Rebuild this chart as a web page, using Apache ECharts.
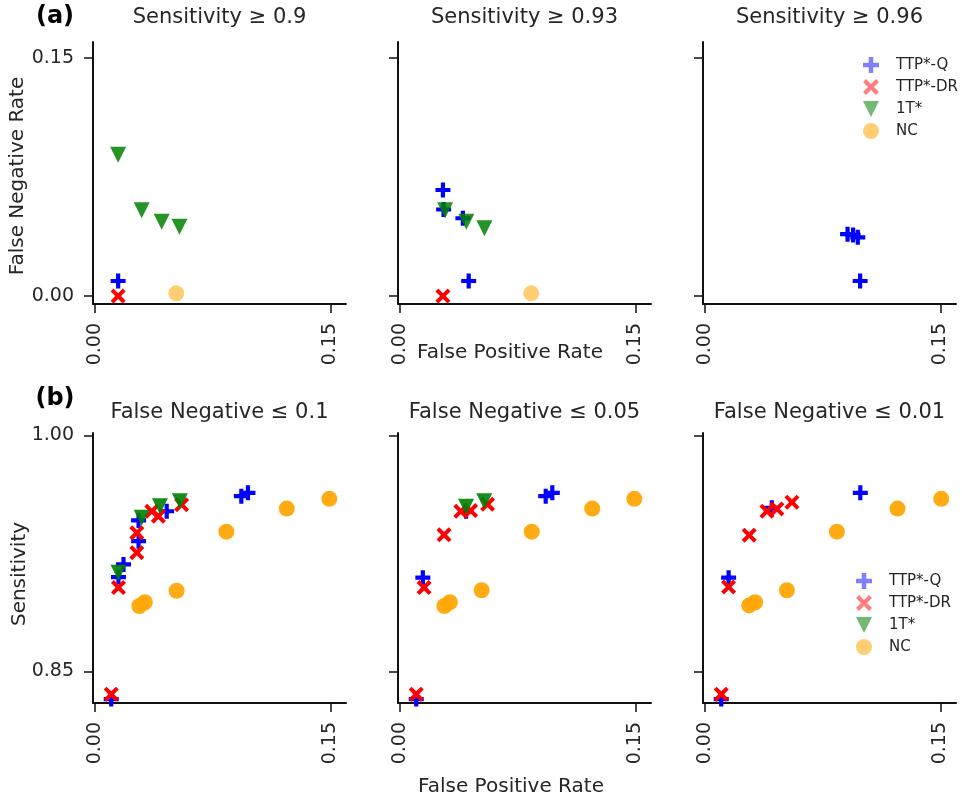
<!DOCTYPE html>
<html>
<head>
<meta charset="utf-8">
<script src="https://cdn.jsdelivr.net/npm/echarts@6/dist/echarts.min.js"></script>
<style>
html,body{margin:0;padding:0;background:#fff;}
#chart{width:962px;height:801px;}
</style>
</head>
<body>
<div id="chart"></div>
<script>
// ---------- data ----------
const methods = ['TTP*-Q', 'TTP*-DR', '1T*', 'NC'];
const topTitles = ['Sensitivity \u2265 0.9', 'Sensitivity \u2265 0.93', 'Sensitivity \u2265 0.96'];
const bottomTitles = ['False Negative \u2264 0.1', 'False Negative \u2264 0.05', 'False Negative \u2264 0.01'];
const xTicks = [0, 0.15];
const topYTicks = [0, 0.15];
const bottomYTicks = [0.85, 1.0];

// (a) panels: [FPR, FNR]
const a1_Q  = [[0.015, 0.0095]];
const a1_DR = [[0.015, 0.0]];
const a1_1T = [[0.015, 0.089], [0.030, 0.054], [0.0427, 0.0468], [0.054, 0.0437]];
const a1_NC = [[0.052, 0.0017]];

const a2_Q  = [[0.0276, 0.0668], [0.028, 0.0545], [0.0403, 0.049], [0.044, 0.0095]];
const a2_DR = [[0.0276, 0.0]];
const a2_1T = [[0.029, 0.054], [0.0425, 0.0468], [0.054, 0.0427]];
const a2_NC = [[0.0838, 0.0017]];

const a3_Q  = [[0.091, 0.039], [0.0945, 0.0385], [0.0975, 0.037], [0.099, 0.0095]];
const a3_DR = [];
const a3_1T = [];
const a3_NC = [];

// (b) panels: [FPR, Sensitivity]
const b1_Q  = [[0.0106, 0.8325], [0.0152, 0.910], [0.0184, 0.918], [0.028, 0.9328], [0.028, 0.946], [0.0459, 0.9518], [0.0934, 0.9614], [0.0976, 0.9635]];
const b1_DR = [[0.0106, 0.8356], [0.0152, 0.9033], [0.0269, 0.9255], [0.0269, 0.9381], [0.0364, 0.9518], [0.0406, 0.9487], [0.0554, 0.956]];
const b1_1T = [[0.0152, 0.9128], [0.030, 0.9477], [0.0416, 0.955], [0.0543, 0.9582]];
const b1_NC = [[0.0285, 0.8916], [0.032, 0.894], [0.0522, 0.9013], [0.0839, 0.9388], [0.1223, 0.9535], [0.1494, 0.9597]];

const b2_Q  = [[0.0106, 0.8325], [0.0148, 0.9096], [0.0423, 0.9518], [0.093, 0.9614], [0.0972, 0.9635]];
const b2_DR = [[0.0106, 0.8356], [0.0156, 0.9033], [0.0283, 0.9368], [0.039, 0.9518], [0.0452, 0.9522], [0.056, 0.9562]];
const b2_1T = [[0.0423, 0.9547], [0.0539, 0.9582]];
const b2_NC = [[0.0285, 0.8916], [0.032, 0.894], [0.0522, 0.9016], [0.0841, 0.9388], [0.1226, 0.9535], [0.1494, 0.9597]];

const b3_Q  = [[0.0106, 0.8325], [0.0153, 0.9096], [0.0428, 0.954], [0.0991, 0.9635]];
const b3_DR = [[0.0106, 0.8356], [0.0153, 0.9037], [0.0284, 0.9366], [0.0397, 0.9518], [0.046, 0.9533], [0.0556, 0.9575]];
const b3_1T = [];
const b3_NC = [[0.0284, 0.892], [0.0322, 0.894], [0.0524, 0.9016], [0.0842, 0.9388], [0.1228, 0.9535], [0.1506, 0.9597]];

const panelData = [
  [a1_Q, a1_DR, a1_1T, a1_NC],
  [a2_Q, a2_DR, a2_1T, a2_NC],
  [a3_Q, a3_DR, a3_1T, a3_NC],
  [b1_Q, b1_DR, b1_1T, b1_NC],
  [b2_Q, b2_DR, b2_1T, b2_NC],
  [b3_Q, b3_DR, b3_1T, b3_NC]
];

// ---------- styling ----------
const FONT = 'DejaVu Sans';
const TXT = '#262626';
const PLUS = 'path://M3.6,0H6.4V3.6H10V6.4H6.4V10H3.6V6.4H0V3.6H3.6Z';
const CROSS = 'path://M0,1.9L1.9,0L5,3.1L8.1,0L10,1.9L6.9,5L10,8.1L8.1,10L5,6.9L1.9,10L0,8.1L3.1,5Z';
const TRI = 'path://M0,0L10,0L5,10Z';
const symbols = [PLUS, CROSS, TRI, 'circle'];
const symbolSizes = [15, 15, 16, 16];
const colors = ['#0000ff', '#ff0000', '#008000', '#ffa500'];
const topOpacity = [1, 1, 0.85, 0.55];
const bottomOpacity = [1, 1, 0.9, 0.92];
const legendColors = ['rgba(0,0,255,0.5)', 'rgba(255,0,0,0.5)', 'rgba(0,128,0,0.55)', 'rgba(255,165,0,0.55)'];

const colLeft = [93, 398, 703];
const colW = 253;
const rows = [{top: 42, height: 262, ymin: -0.005, ymax: 0.16, ticks: topYTicks},
              {top: 433, height: 270, ymin: 0.83, ymax: 1.0015, ticks: bottomYTicks}];

const grids = [], xAxes = [], yAxes = [], series = [];
for (let p = 0; p < 6; p++) {
  const r = rows[p < 3 ? 0 : 1];
  const c = p % 3;
  grids.push({left: colLeft[c], top: r.top, width: colW, height: r.height, containLabel: false});
  xAxes.push({
    type: 'value', gridIndex: p, min: -0.001, max: 0.16,
    axisLine: {onZero: false, lineStyle: {color: '#111', width: 2}},
    axisTick: {show: true, length: 9, lineStyle: {color: '#111', width: 1.5}, customValues: xTicks},
    axisLabel: {show: true, rotate: 90, margin: 19, color: TXT, fontFamily: FONT, fontSize: 19,
                customValues: xTicks, formatter: v => v.toFixed(2)},
    splitLine: {show: false}
  });
  yAxes.push({
    type: 'value', gridIndex: p, min: r.ymin, max: r.ymax,
    axisLine: {onZero: false, lineStyle: {color: '#111', width: 2}},
    axisTick: {show: true, length: 9, lineStyle: {color: '#111', width: 1.5}, customValues: r.ticks},
    axisLabel: {show: c === 0, margin: 19, color: TXT, fontFamily: FONT, fontSize: 19,
                customValues: r.ticks, formatter: v => v.toFixed(2)},
    splitLine: {show: false}
  });
  for (let m = 0; m < 4; m++) {
    series.push({
      type: 'scatter', name: methods[m], xAxisIndex: p, yAxisIndex: p,
      data: panelData[p][m],
      symbol: symbols[m], symbolSize: symbolSizes[m],
      itemStyle: {color: colors[m], opacity: (p < 3 ? topOpacity : bottomOpacity)[m]},
      emphasis: {disabled: true}, animation: false
    });
  }
}

function legendAt(left, top) {
  return {
    orient: 'vertical', left: left, top: top, padding: 0,
    itemWidth: 40, itemHeight: 16, itemGap: 6,
    textStyle: {fontFamily: FONT, fontSize: 15, color: TXT},
    selectedMode: false,
    data: methods.map((n, i) => ({name: n, icon: symbols[i], itemStyle: {color: legendColors[i], opacity: 1}}))
  };
}

const graphics = [];
function txt(text, x, y, size, opts) {
  opts = opts || {};
  graphics.push({
    type: 'text', x: x, y: y, rotation: opts.rot || 0,
    style: {text: text, fill: opts.color || TXT, font: (opts.bold ? 'bold ' : '') + size + 'px "' + FONT + '"',
            align: 'center', verticalAlign: 'middle'}
  });
}
for (let c = 0; c < 3; c++) {
  txt(topTitles[c], colLeft[c] + colW / 2, 18, 21);
  txt(bottomTitles[c], colLeft[c] + colW / 2, 413, 21);
}
txt('(a)', 55, 17, 24, {bold: true, color: '#000'});
txt('(b)', 55, 399, 24, {bold: true, color: '#000'});
txt('False Negative Rate', 18, 176, 20, {rot: Math.PI / 2});
txt('Sensitivity', 20, 574, 20, {rot: Math.PI / 2});
txt('False Positive Rate', 510, 353, 20);
txt('False Positive Rate', 511, 787, 20);

const chart = echarts.init(document.getElementById('chart'), null, {renderer: 'canvas'});
chart.setOption({
  animation: false,
  backgroundColor: '#fff',
  grid: grids, xAxis: xAxes, yAxis: yAxes, series: series,
  legend: [legendAt(863, 57), legendAt(856, 573)],
  graphic: graphics
});
</script>
</body>
</html>
